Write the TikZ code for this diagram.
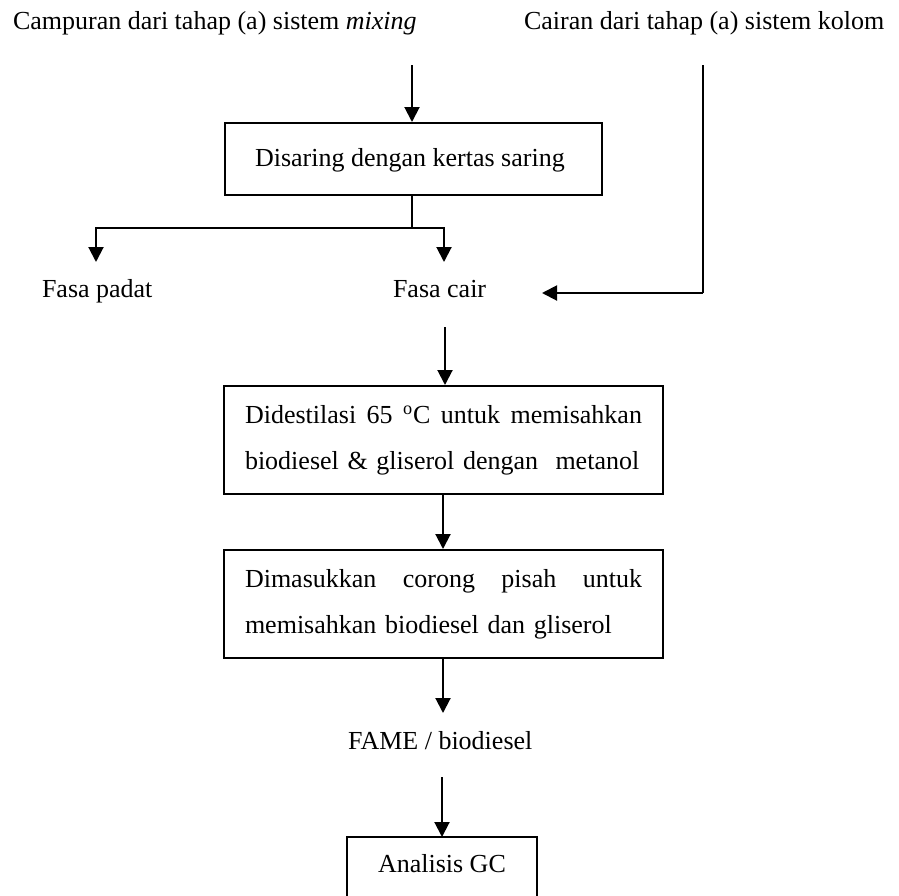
\documentclass[tikz,border=0pt]{standalone}
\usepackage{fontspec}
\setmainfont{Liberation Serif}
\usetikzlibrary{arrows.meta}
\newlength{\boxtextwd}
\setlength{\boxtextwd}{198.5pt}
% a line spread to the full text width, with the stretch put between words
\newcommand{\fullline}[1]{\hbox to\boxtextwd{#1}}
\newcommand{\gap}{\hspace{0pt plus 1fil}\ }
\begin{document}
\fontsize{13pt}{23pt}\selectfont
\begin{tikzpicture}[x=0.5pt,y=-0.5pt,
    line width=1pt,
    flow/.style={-{Triangle[width=7.5pt,length=7.5pt]}},
    lbl/.style={anchor=base west,inner sep=0pt},
    stepbox/.style={draw,anchor=north west,inner sep=0pt},
    twoline/.style={draw,anchor=north west,text width=\boxtextwd,inner xsep=10.5pt,inner ysep=0pt,
      minimum height=54pt,align=left,font=\fontsize{13pt}{23pt}\selectfont}]
  \useasboundingbox (0,0) rectangle (899,895);

  % inputs
  \node[lbl] (mix) at (12,29) {Campuran dari tahap (a) sistem \textit{mixing}};
  \node[lbl] (kol) at (523,29) {Cairan dari tahap (a) sistem kolom};
  \coordinate (mixend) at (412,65);
  \coordinate (koltop) at (703,65);
  \coordinate (kolbend) at (703,293);

  % filtering
  \node[stepbox,minimum width=188.5pt,minimum height=36pt] (saring) at (224,122) {};
  \node[lbl] (saringtxt) at (254,166) {Disaring dengan kertas saring};
  \coordinate (split) at (412,228);
  \coordinate (splitL) at (96,228);
  \coordinate (splitR) at (444,228);
  \coordinate (padatTop) at (96,262);
  \coordinate (cairTop) at (444,262);

  \node[lbl] (padat) at (41,297) {Fasa padat};
  \node[lbl] (cair) at (392,297) {Fasa cair};
  \coordinate (cairIn) at (542,293);
  \coordinate (cairOut) at (445,327);

  % distillation
  \node[twoline] (destilasi) at (223,385)
    {\fullline{Didestilasi\gap 65\gap \textsuperscript{o}C\gap untuk\gap memisahkan}\\
     \mbox{biodiesel \& gliserol dengan\ \ metanol}};

  % separating funnel
  \node[twoline] (corong) at (223,549)
    {\fullline{Dimasukkan\gap corong\gap pisah\gap untuk}\\
     \mbox{memisahkan biodiesel dan gliserol}};

  \node[lbl] (fame) at (347,749) {FAME / biodiesel};
  \coordinate (fameIn) at (443,713);
  \coordinate (fameOut) at (442,777);

  % GC analysis (box runs past the lower edge)
  \coordinate (gcTL) at (347,837);
  \coordinate (gcTR) at (537,837);
  \node[lbl] (gc) at (377,872) {Analisis GC};
  \draw (347,900) -- (gcTL) -- (gcTR) -- (537,900);

  % connectors
  \draw[flow] (mixend) -- (saring.north -| mixend);
  \draw (saring.south -| split) -- (split);
  \draw[flow] (split) -- (splitL) -- (padatTop);
  \draw[flow] (split) -- (splitR) -- (cairTop);
  \draw (koltop) -- (kolbend);
  \draw[flow] (kolbend) -- (cairIn);
  \draw[flow] (cairOut) -- (destilasi.north -| cairOut);
  \draw[flow] (destilasi.south -| fameIn) -- (corong.north -| fameIn);
  \draw[flow] (corong.south -| fameIn) -- (fameIn);
  \draw[flow] (fameOut) -- (gcTL -| fameOut);
\end{tikzpicture}
\end{document}
